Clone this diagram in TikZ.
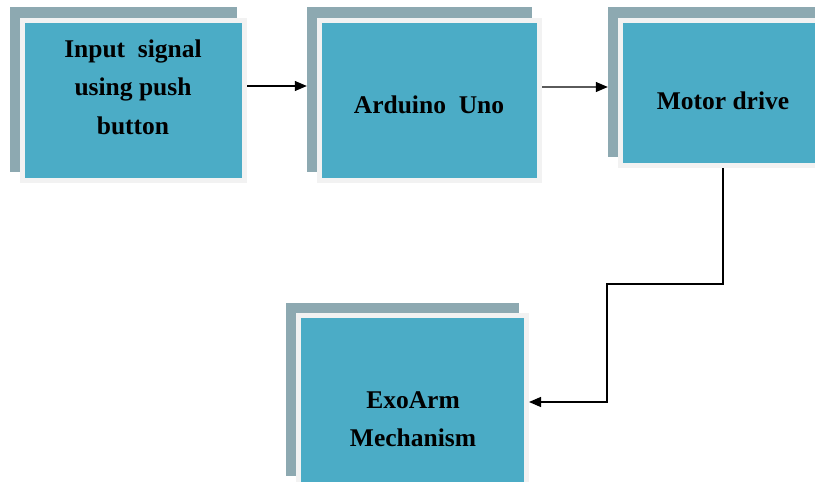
\documentclass[tikz,border=0pt]{standalone}
\usepackage{fontspec}
\setmainfont{Liberation Serif}
\usetikzlibrary{arrows.meta}
\definecolor{teal1}{RGB}{75,172,198}
\definecolor{shadowgray}{RGB}{141,169,177}
\definecolor{rimwhite}{RGB}{242,242,242}
\definecolor{linegray}{RGB}{90,90,90}
\tikzset{
  shadowbox/.style={fill=shadowgray, draw=none, inner sep=0pt, minimum width=#1},
  mainbox/.style={fill=teal1, draw=rimwhite, line width=5pt, inner sep=0pt},
  lbl/.style={font=\fontsize{25.5}{38.5}\selectfont\bfseries, align=center, inner sep=0pt},
  arr/.style={line width=1.2pt, -{Triangle[length=12pt,width=10pt,color=black]}}
}
\begin{document}
\begin{tikzpicture}[x=1pt,y=-1pt]
\useasboundingbox (0,0) rectangle (815,482);
% shadows
\node[shadowbox=227pt, minimum height=165pt] (s1) at (123.5,89.5) {};
\node[shadowbox=225pt, minimum height=165pt] (s2) at (419.5,89.5) {};
\node[shadowbox=222pt, minimum height=150pt] (s3) at (719,82) {};
\node[shadowbox=233pt, minimum height=173pt] (s4) at (402.5,389.5) {};
% main boxes
\node[mainbox, minimum width=222pt, minimum height=160pt] (b1) at (133.5,100.5) {};
\node[mainbox, minimum width=220pt, minimum height=160pt] (b2) at (429.5,100.5) {};
\node[mainbox, minimum width=205pt, minimum height=145pt] (b3) at (723,93) {};
\node[mainbox, minimum width=228pt, minimum height=175pt] (b4) at (412.5,403) {};
% labels
\node[lbl] (t1) at (133,87) {Input~ signal\\using push\\button};
\node[lbl] (t2) at (429,105) {Arduino~ Uno};
\node[lbl] (t3) at (723,101) {Motor drive};
\node[lbl] (t4) at (413,419) {ExoArm\\Mechanism};
% connectors
\coordinate (y1) at (0,86);
\coordinate (y2) at (0,87);
\coordinate (m1) at (607,284);
\coordinate (m2) at (607,402);
\draw[arr] (b1.east |- y1) -- (s2.west |- y1);
\draw[arr, linegray] (b2.east |- y2) -- (s3.west |- y2);
\draw[arr] (b3.south) |- (m1) -- (m2) -- (b4.east |- m2);
\end{tikzpicture}
\end{document}
